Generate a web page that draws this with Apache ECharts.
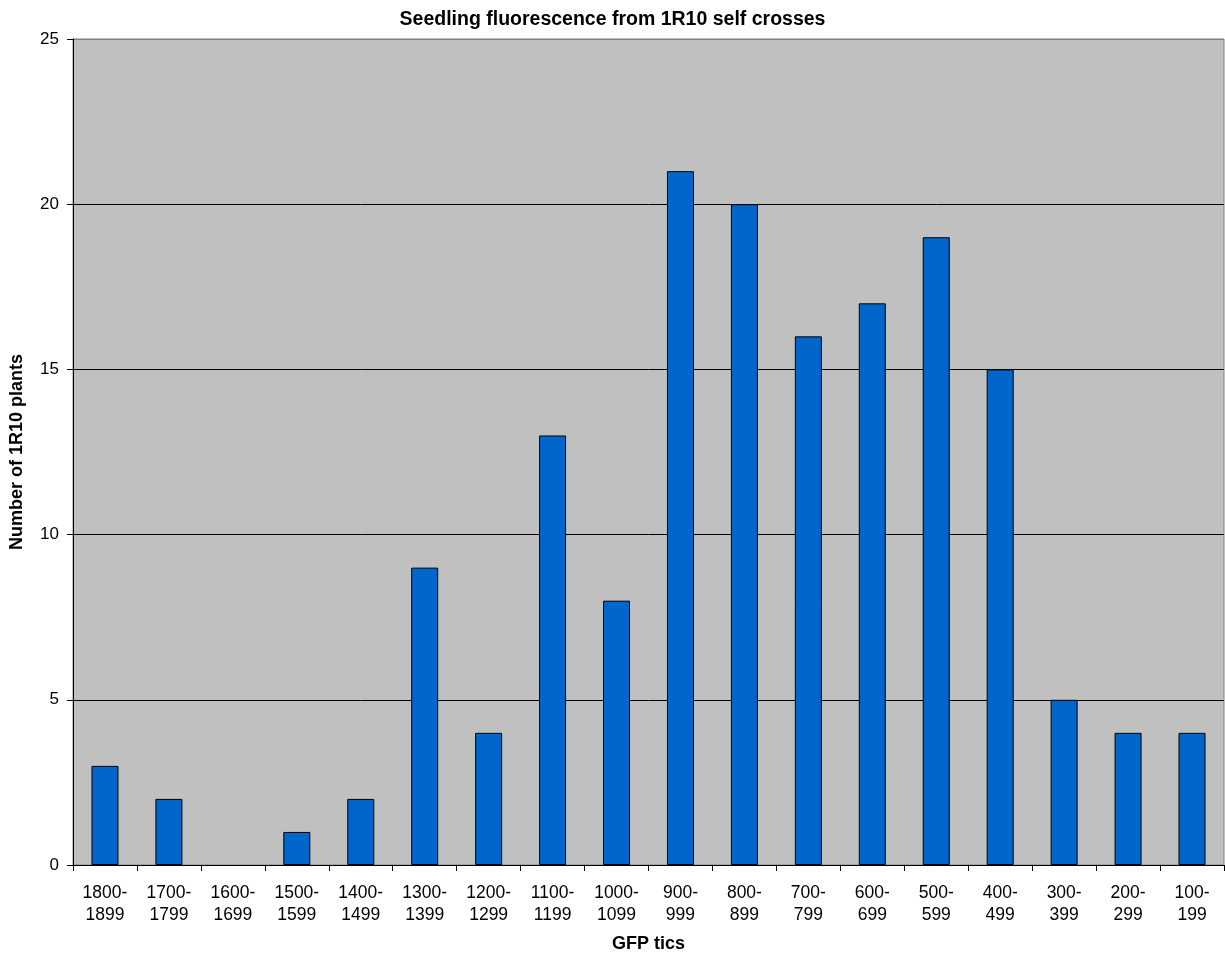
<!DOCTYPE html>
<html>
<head>
<meta charset="utf-8">
<style>
  html, body { margin: 0; padding: 0; background: #fff; }
  #chart { width: 1225px; height: 958px; }
</style>
<script src="https://cdn.jsdelivr.net/npm/echarts@6/dist/echarts.min.js"></script>
</head>
<body>
<div id="chart"></div>
<script>
// GFP fluorescence bins (highest first) and plant counts per bin
const categories = [
  '1800-\n1899', '1700-\n1799', '1600-\n1699', '1500-\n1599', '1400-\n1499',
  '1300-\n1399', '1200-\n1299', '1100-\n1199', '1000-\n1099', '900-\n999',
  '800-\n899', '700-\n799', '600-\n699', '500-\n599', '400-\n499',
  '300-\n399', '200-\n299', '100-\n199'
];
const plantCounts = [3, 2, 0, 1, 2, 9, 4, 13, 8, 21, 20, 16, 17, 19, 15, 5, 4, 4];
const yTicks = { min: 0, max: 25, interval: 5 };

const font = 'Liberation Sans, Arial, sans-serif';
const chart = echarts.init(document.getElementById('chart'), null, { renderer: 'canvas' });

// empty bins get no outline so nothing is drawn for them
const barData = plantCounts.map(v => (v === 0
  ? { value: v, itemStyle: { borderWidth: 0 } }
  : v));

// gridlines black, the top one matches the grey frame
const gridCount = (yTicks.max - yTicks.min) / yTicks.interval + 1;
const gridColors = Array.from({ length: gridCount }, (_, i) => (i === gridCount - 1 ? '#808080' : '#000'));

chart.setOption({
  animation: false,
  title: {
    text: 'Seedling fluorescence from 1R10 self crosses',
    left: 'center',
    top: 5,
    textStyle: { fontFamily: font, fontSize: 19.5, fontWeight: 'bold', color: '#000' }
  },
  grid: {
    left: 72, right: 1, top: 39, bottom: 93,
    show: true,
    backgroundColor: '#C0C0C0',
    borderColor: '#808080',
    borderWidth: 1
  },
  xAxis: {
    type: 'category',
    data: categories,
    name: 'GFP tics',
    nameLocation: 'middle',
    nameGap: 70,
    nameTextStyle: { fontFamily: font, fontSize: 18, fontWeight: 'bold', color: '#000' },
    axisLine: { show: true, lineStyle: { color: '#000', width: 1 } },
    axisTick: { show: true, alignWithLabel: false, length: 6, lineStyle: { color: '#000' } },
    axisLabel: {
      interval: 0,
      margin: 17,
      fontFamily: font, fontSize: 17.5, color: '#000', lineHeight: 22
    },
    splitLine: { show: false }
  },
  yAxis: {
    type: 'value',
    min: yTicks.min,
    max: yTicks.max,
    interval: yTicks.interval,
    name: 'Number of 1R10 plants',
    nameLocation: 'middle',
    nameGap: 47,
    nameTextStyle: { fontFamily: font, fontSize: 18, fontWeight: 'bold', color: '#000' },
    axisLine: { show: true, lineStyle: { color: '#000', width: 1 } },
    axisTick: { show: true, length: 6, inside: false, lineStyle: { color: '#000' } },
    axisLabel: { margin: 14, fontFamily: font, fontSize: 17, color: '#000' },
    splitLine: { show: true, lineStyle: { color: gridColors, width: 1 } }
  },
  series: [{
    type: 'bar',
    data: barData,
    barWidth: 27,
    itemStyle: { color: '#0066CC', borderColor: '#000', borderWidth: 1 }
  }]
});
</script>
</body>
</html>
